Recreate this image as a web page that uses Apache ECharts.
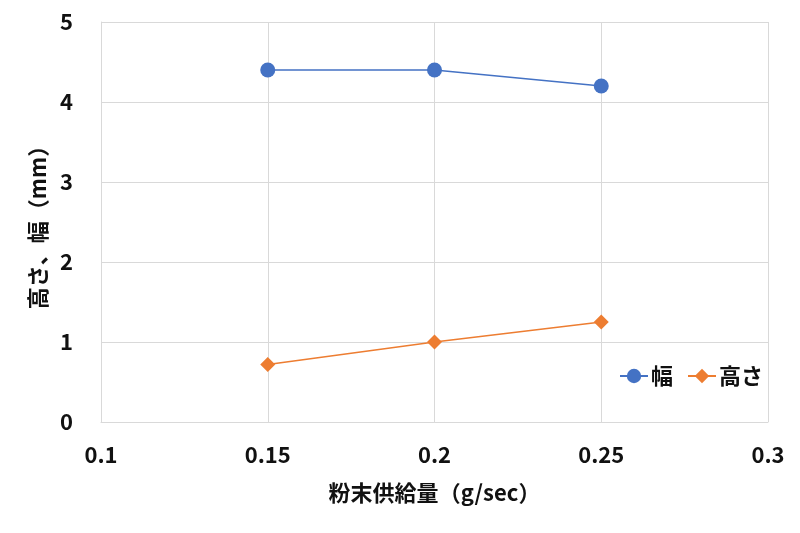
<!DOCTYPE html>
<html><head><meta charset="utf-8">
<script src="https://cdn.jsdelivr.net/npm/echarts@6/dist/echarts.min.js"></script>
<style>html,body{margin:0;padding:0;background:#fff}#c{width:800px;height:533px}</style>
</head><body><div id="c"></div>
<script>
const xValues = [0.15, 0.2, 0.25];
const widthValues = [4.4, 4.4, 4.2];
const heightValues = [0.72, 1.0, 1.25];
const xTicks = [0.1, 0.15, 0.2, 0.25, 0.3];
const yTicks = [0, 1, 2, 3, 4, 5];
const seriesNames = ['幅', '高さ'];
const xTitle = '粉末供給量（g/sec）';
const yTitle = '高さ、幅（mm）';

const font = '"Noto Sans CJK JP", "Noto Sans", sans-serif';
const txt = {fontFamily: font, fontSize: 22, fontWeight: 'bold', color: '#111'};
const chart = echarts.init(document.getElementById('c'), null, {renderer: 'canvas'});
chart.setOption({
  animation: false,
  backgroundColor: '#fff',
  grid: {left: 101, right: 32, top: 22, bottom: 111, containLabel: false},
  legend: {
    right: 32, top: 360, itemGap: 14, itemWidth: 28, itemHeight: 18,
    textStyle: Object.assign({}, txt, {padding: [0, 0, 0, -2]}),
    data: seriesNames
  },
  xAxis: {
    type: 'value', min: 0.1, max: 0.3, interval: 0.05,
    name: xTitle, nameLocation: 'middle', nameGap: 60,
    nameTextStyle: txt,
    axisLine: {show: true, lineStyle: {color: '#d9d9d9', width: 1}},
    axisTick: {show: false},
    splitLine: {show: true, lineStyle: {color: '#d9d9d9', width: 1}},
    axisLabel: Object.assign({}, txt, {margin: 22,
      formatter: v => String(+v.toFixed(2))})
  },
  yAxis: {
    type: 'value', min: 0, max: 5, interval: 1,
    name: yTitle, nameLocation: 'middle', nameGap: 52, nameRotate: 90,
    nameTextStyle: txt,
    axisLine: {show: true, lineStyle: {color: '#d9d9d9', width: 1}},
    axisTick: {show: false},
    splitLine: {show: true, lineStyle: {color: '#d9d9d9', width: 1}},
    axisLabel: Object.assign({}, txt, {margin: 28})
  },
  series: [
    {name: seriesNames[0], type: 'line', data: xValues.map((x, i) => [x, widthValues[i]]),
     symbol: 'circle', symbolSize: 15,
     itemStyle: {color: '#4472C4'}, lineStyle: {color: '#4472C4', width: 1.5}},
    {name: seriesNames[1], type: 'line', data: xValues.map((x, i) => [x, heightValues[i]]),
     symbol: 'diamond', symbolSize: 15,
     itemStyle: {color: '#ED7D31'}, lineStyle: {color: '#ED7D31', width: 1.5}}
  ]
});
</script></body></html>
